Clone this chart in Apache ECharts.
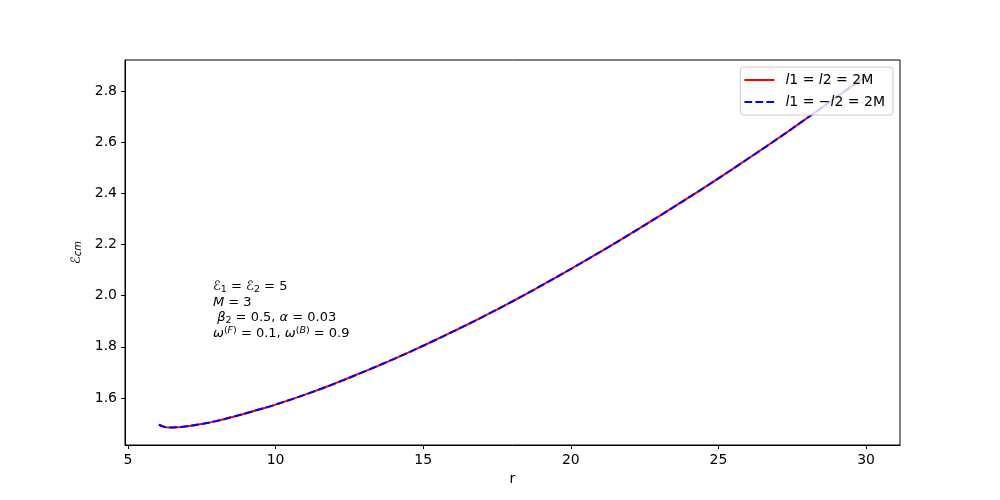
<!DOCTYPE html>
<html>
<head>
<meta charset="utf-8">
<script src="https://cdn.jsdelivr.net/npm/echarts@6/dist/echarts.min.js"></script>
<style>
  html, body { margin: 0; padding: 0; background: #fff; }
  #chart { width: 1000px; height: 500px; }
</style>
</head>
<body>
<div id="chart"></div>
<script>
// radius r and centre-of-mass energy
var rValues = [6.05, 6.2, 6.4, 6.7, 7, 7.5, 8, 8.5, 9, 9.5, 10, 11, 12, 13, 14, 15, 16, 17, 18, 19, 20, 21, 22, 23, 24, 25, 26, 27, 28, 29, 30];
var eValues = [1.496, 1.488, 1.484, 1.4855, 1.489, 1.498, 1.510, 1.5245, 1.540, 1.557, 1.574, 1.613, 1.656, 1.703, 1.752, 1.804, 1.859, 1.916, 1.976, 2.039, 2.104, 2.171, 2.240, 2.311, 2.384, 2.458, 2.535, 2.613, 2.694, 2.776, 2.858];
var xTicks = [5, 10, 15, 20, 25, 30];
var yTicks = [1.6, 1.8, 2.0, 2.2, 2.4, 2.6, 2.8];
var seriesNames = ['l1 = l2 = 2M', 'l1 = -l2 = 2M'];

var pts = rValues.map(function (r, i) { return [r, eValues[i]]; });

var font = 'DejaVu Sans';
var mathRich = {
    i: { fontFamily: font, fontStyle: 'italic', fontSize: 13, color: '#000' },
    e: { fontFamily: font, fontSize: 13, color: '#000' },
    sub: { fontFamily: font, fontSize: 9.5, color: '#000', verticalAlign: 'bottom' },
    subi: { fontFamily: font, fontStyle: 'italic', fontSize: 10, color: '#000', verticalAlign: 'bottom' },
    sup: { fontFamily: font, fontSize: 9.5, color: '#000', verticalAlign: 'top' },
    supi: { fontFamily: font, fontStyle: 'italic', fontSize: 9.5, color: '#000', verticalAlign: 'top' }
};

var myChart = echarts.init(document.getElementById('chart'), null, {renderer: 'canvas'});

option = {
    animation: false,
    textStyle: { fontFamily: font },
    grid: {
        left: 125, right: 100, top: 60, bottom: 55,
        containLabel: false,
        show: true, borderColor: '#000', borderWidth: 1, backgroundColor: '#fff'
    },
    legend: {
        orient: 'vertical',
        right: 107,
        top: 67,
        data: seriesNames,
        itemWidth: 30,
        itemHeight: 14,
        itemGap: 8,
        padding: [6, 8, 6, 3],
        borderColor: '#cccccc',
        borderWidth: 1,
        borderRadius: 3,
        backgroundColor: 'rgba(255,255,255,0.8)',
        itemStyle: { opacity: 0 },
        formatter: function (name) {
            if (name === seriesNames[0]) return '{i|l}{t|1 = }{i|l}{t|2 = 2M}';
            return '{i|l}{t|1 = −}{i|l}{t|2 = 2M}';
        },
        textStyle: {
            padding: [0, 0, 0, 6],
            rich: {
                i: { fontFamily: font, fontStyle: 'italic', fontSize: 14, color: '#000' },
                t: { fontFamily: font, fontSize: 14, color: '#000' }
            }
        }
    },
    xAxis: {
        type: 'value',
        min: 4.9,
        max: 31.15,
        name: 'r',
        nameLocation: 'middle',
        nameGap: 27,
        nameTextStyle: { fontFamily: font, fontSize: 14, color: '#000' },
        axisLine: { show: true, lineStyle: { color: '#000', width: 1 } },
        axisTick: { show: true, customValues: xTicks, length: 4, lineStyle: { color: '#000' } },
        axisLabel: { customValues: xTicks, margin: 8, fontFamily: font, fontSize: 14, color: '#000' },
        splitLine: { show: false }
    },
    yAxis: {
        type: 'value',
        min: 1.416,
        max: 2.921,
        name: '{e|ℰ}{subi|cm}',
        nameLocation: 'middle',
        nameRotate: 90,
        nameGap: 42,
        nameTextStyle: { rich: mathRich },
        axisLine: { show: true, lineStyle: { color: '#000', width: 1 } },
        axisTick: { show: true, customValues: yTicks, length: 4, lineStyle: { color: '#000' } },
        axisLabel: {
            customValues: yTicks, margin: 8, fontFamily: font, fontSize: 14, color: '#000',
            formatter: function (v) { return v.toFixed(1); }
        },
        splitLine: { show: false }
    },
    graphic: [{
        type: 'text',
        left: 213,
        top: 279,
        z: 10,
        style: {
            text: [
                '{e|ℰ}{sub|1}{e| = }{e|ℰ}{sub|2}{e| = 5}',
                '{i|M}{e| = 3}',
                '{e| }{i|β}{sub|2}{e| = 0.5, }{i|α}{e| = 0.03}',
                '{i|ω}{sup|(}{supi|F}{sup|)}{e| = 0.1, }{i|ω}{sup|(}{supi|B}{sup|)}{e| = 0.9}'
            ].join('\n'),
            rich: mathRich,
            lineHeight: 15.5,
            fill: '#000'
        }
    }],
    series: [{
        name: seriesNames[0],
        type: 'line',
        data: pts,
        smooth: true,
        showSymbol: false,
        symbol: 'none',
        lineStyle: { color: '#ff0000', width: 2 },
        itemStyle: { color: '#ff0000' },
        z: 2
    }, {
        name: seriesNames[1],
        type: 'line',
        data: pts,
        smooth: true,
        showSymbol: false,
        symbol: 'none',
        lineStyle: { color: '#0000ff', width: 2, type: [7.7, 3.3] },
        itemStyle: { color: '#0000ff' },
        z: 3
    }]
};

myChart.setOption(option);
</script>
</body>
</html>
